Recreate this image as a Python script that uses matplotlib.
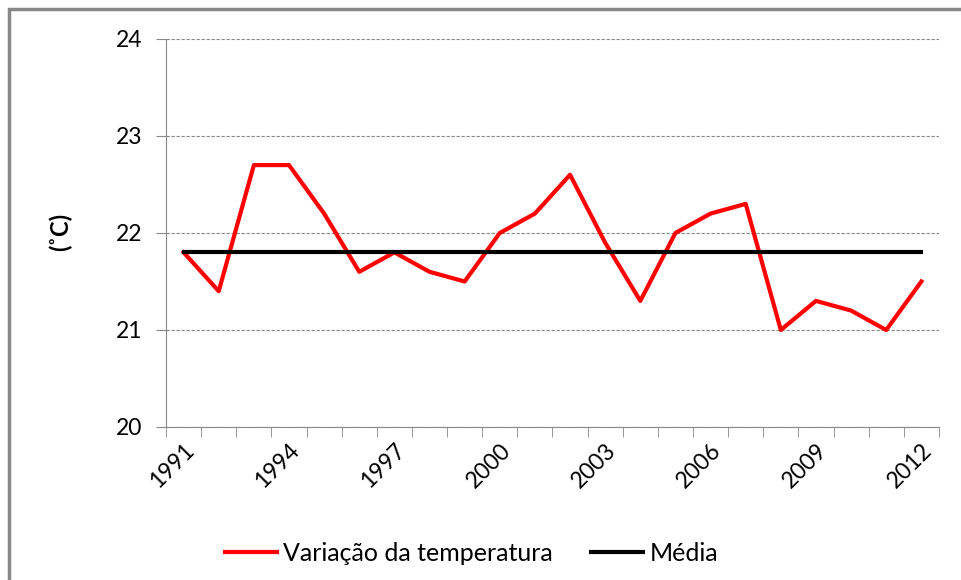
import matplotlib.pyplot as plt
import numpy as np
from matplotlib.patches import Rectangle

years = list(range(1991, 2013))
temps = [21.8, 21.4, 22.7, 22.7, 22.2, 21.6, 21.8, 21.6, 21.5, 22.0, 22.2,
         22.6, 21.9, 21.3, 22.0, 22.2, 22.3, 21.0, 21.3, 21.2, 21.0, 21.5]
media = [21.8] * len(years)
label_years = years[::3]


def main():
    plt.rcParams['font.family'] = ['Lato', 'DejaVu Sans']
    fig = plt.figure(figsize=(9.62, 5.80), dpi=100)
    ax = fig.add_axes([0.1726, 0.2638, 0.976 - 0.1726, 0.9328 - 0.2638])

    # chart frame
    fig.patches.append(Rectangle((9 / 962, -0.1), 1.2, 1 - 9 / 580 + 0.1,
                                 transform=fig.transFigure, fill=False,
                                 edgecolor='#888888', linewidth=2.5))

    x = np.arange(len(years))
    ax.plot(x, temps, color='#ff0000', lw=3, label='Variação da temperatura',
            zorder=3)
    ax.plot(x, media, color='black', lw=3, label='Média', zorder=4)

    ax.set_xlim(-0.5, len(years) - 0.5)
    ax.set_ylim(20, 24)
    ax.set_yticks([20, 21, 22, 23, 24])
    ax.yaxis.grid(True, color='#888888', linestyle=(0, (3, 1.5)), lw=0.8)
    ax.set_axisbelow(True)

    ax.set_xticks([years.index(y) for y in label_years])
    ax.set_xticklabels([str(y) for y in label_years], rotation=45,
                       ha='right', rotation_mode='anchor', fontsize=16.5)
    ax.set_xticks(np.arange(-0.5, len(years)), minor=True)
    ax.tick_params(axis='x', which='major', length=0, pad=9)
    ax.tick_params(axis='x', which='minor', length=7, color='#888888')
    ax.tick_params(axis='y', length=7, color='#888888', labelsize=16.5, pad=10)

    for s in ['top', 'right']:
        ax.spines[s].set_visible(False)
    for s in ['left', 'bottom']:
        ax.spines[s].set_color('#888888')

    fig.text(0.063, 0.6, '(˚C)', rotation=90, fontsize=17, fontweight='bold',
             ha='center', va='center')

    fig.legend(loc='center', bbox_to_anchor=(0.49, 0.046), ncol=2,
               frameon=False, fontsize=18, handlelength=2.1,
               handletextpad=0.25, columnspacing=1.5)

    fig.savefig('out.png', dpi=100)


if __name__ == '__main__':
    main()
